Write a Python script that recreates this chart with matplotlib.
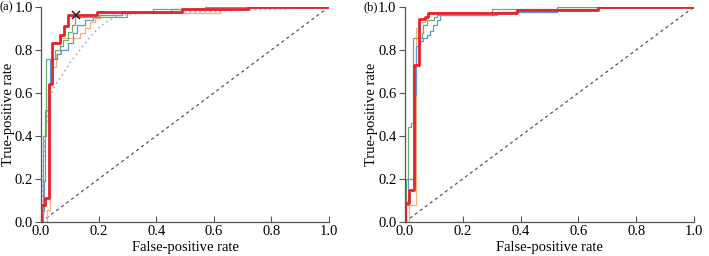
import numpy as np
import matplotlib.pyplot as plt

plt.rcParams['font.family'] = ['Liberation Serif', 'DejaVu Serif']
plt.rcParams['font.size'] = 10.5

# ROC points: (fpr, tpr) at top of each vertical step
a_red_fpr = [0, 0, 0.014, 0.026, 0.037, 0.066, 0.08, 0.095, 0.193, 0.489, 0.72, 1.0]
a_red_tpr = [0, 0.08, 0.11, 0.64, 0.83, 0.87, 0.91, 0.963, 0.975, 0.989, 1.0, 1.0]
a_green_fpr = [0, 0, 0.008, 0.017, 0.049, 0.065, 0.077, 0.095, 0.106, 0.118, 0.3, 0.39, 0.72, 1.0]
a_green_tpr = [0, 0.02, 0.4, 0.76, 0.8, 0.82, 0.846, 0.885, 0.916, 0.955, 0.975, 0.989, 1.0, 1.0]
a_blue_fpr = [0, 0.005, 0.01, 0.014, 0.025, 0.031, 0.054, 0.07, 0.083, 0.095, 0.112, 0.124, 0.153, 0.18, 0.2, 0.28, 0.45, 0.57, 1.0]
a_blue_tpr = [0, 0.05, 0.19, 0.52, 0.62, 0.76, 0.78, 0.80, 0.80, 0.83, 0.877, 0.916, 0.94, 0.955, 0.963, 0.975, 0.99, 1.0, 1.0]
a_orange_fpr = [0, 0.02, 0.03, 0.05, 0.065, 0.135, 0.153, 0.17, 0.188, 0.205, 0.25, 0.62, 0.72, 1.0]
a_orange_tpr = [0, 0.056, 0.72, 0.78, 0.854, 0.877, 0.9, 0.93, 0.95, 0.963, 0.97, 0.989, 1.0, 1.0]
a_purple_fpr = [0, 0.005, 0.014, 0.03, 0.05, 0.072, 0.1, 0.135, 0.17, 0.205, 0.24, 0.27, 0.35, 0.6, 1.0]
a_purple_tpr = [0, 0.2, 0.4, 0.58, 0.64, 0.68, 0.74, 0.8, 0.86, 0.91, 0.94, 0.96, 0.97, 0.98, 1.0]
a_best = (0.12, 0.963)

b_red_fpr = [0, 0, 0.014, 0.03, 0.048, 0.069, 0.08, 0.388, 0.668, 1.0]
b_red_tpr = [0, 0.088, 0.15, 0.73, 0.943, 0.955, 0.97, 0.986, 1.0, 1.0]
b_green_fpr = [0, 0.003, 0.011, 0.021, 0.029, 0.058, 0.063, 0.075, 0.1, 0.11, 0.3, 0.668, 1.0]
b_green_tpr = [0, 0.2, 0.44, 0.46, 0.854, 0.88, 0.916, 0.94, 0.955, 0.963, 0.99, 1.0, 1.0]
b_blue_fpr = [0, 0.005, 0.01, 0.035, 0.04, 0.052, 0.063, 0.075, 0.087, 0.098, 0.11, 0.121, 0.318, 0.526, 1.0]
b_blue_tpr = [0, 0.08, 0.2, 0.59, 0.82, 0.84, 0.855, 0.87, 0.89, 0.916, 0.94, 0.963, 0.975, 1.0, 1.0]
b_orange_fpr = [0, 0.015, 0.04, 0.05, 0.07, 0.08, 0.466, 0.668, 1.0]
b_orange_tpr = [0, 0.08, 0.9, 0.93, 0.955, 0.975, 0.986, 1.0, 1.0]

RED = '#e3242b'
GREEN = '#6aaf6a'
BLUE = '#5b9bd5'
ORANGE = '#f2b27a'
PURPLE = '#b7a4dc'
DIAG = '#4a5578'

fig = plt.figure(figsize=(7.09, 2.56), dpi=100)
ax_a = fig.add_axes([0.058, 0.133, 0.406, 0.84])
ax_b = fig.add_axes([0.571, 0.133, 0.408, 0.84])

def style(ax):
    ax.set_xlim(0, 1)
    ax.set_ylim(0, 1)
    ax.spines['top'].set_visible(False)
    ax.spines['right'].set_visible(False)
    for s in ('left', 'bottom'):
        ax.spines[s].set_color('#555555')
        ax.spines[s].set_linewidth(0.9)
    ax.set_xticks(np.arange(0, 1.01, 0.2))
    ax.set_yticks(np.arange(0, 1.01, 0.2))
    ax.tick_params(axis='x', direction='in', length=4, color='#555555', pad=2)
    ax.tick_params(axis='y', direction='out', length=4, color='#555555', pad=2)
    ax.set_xlabel('False-positive rate')
    ax.set_ylabel('True-positive rate')
    ax.xaxis.set_label_coords(0.5, -0.088)
    ax.yaxis.set_label_coords(-0.092, 0.5)
    ax.plot([0, 1], [0, 1], ls=(0, (2.5, 2.5)), color=DIAG, lw=0.9, zorder=1)

style(ax_a)
ax_a.plot(a_purple_fpr, a_purple_tpr, ls=(0, (1, 2)), color=PURPLE, lw=1.2)
ax_a.plot(a_orange_fpr, a_orange_tpr, drawstyle='steps-post', color=ORANGE, lw=0.9)
ax_a.plot(a_blue_fpr, a_blue_tpr, drawstyle='steps-post', color=BLUE, lw=0.9)
ax_a.plot(a_green_fpr, a_green_tpr, drawstyle='steps-post', color=GREEN, lw=0.9)
ax_a.plot(a_red_fpr, a_red_tpr, drawstyle='steps-post', color=RED, lw=2.0)
ax_a.plot(*a_best, marker='x', color='#222222', ms=6, mew=1.1, clip_on=False)

style(ax_b)
ax_b.plot(b_orange_fpr, b_orange_tpr, drawstyle='steps-post', color=ORANGE, lw=0.9)
ax_b.plot(b_blue_fpr, b_blue_tpr, drawstyle='steps-post', color=BLUE, lw=0.9)
ax_b.plot(b_green_fpr, b_green_tpr, drawstyle='steps-post', color=GREEN, lw=0.9)
ax_b.plot(b_red_fpr, b_red_tpr, drawstyle='steps-post', color=RED, lw=2.0)

fig.text(0.0, 0.972, '(a)', fontsize=9, va='center')
fig.text(0.512, 0.972, '(b)', fontsize=9, va='center')

fig.savefig('out.png', dpi=100)
